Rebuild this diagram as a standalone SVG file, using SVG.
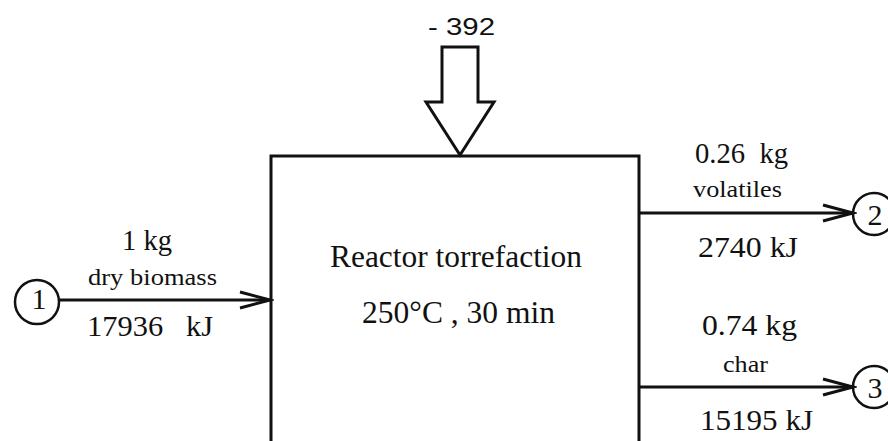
<svg xmlns="http://www.w3.org/2000/svg" width="888" height="441" viewBox="0 0 888 441">
<style>
.t{font-family:"Liberation Serif","Times New Roman",serif;fill:#111;text-anchor:start}
.b{font-size:30px}
.s{font-size:23px}
.m{font-size:31px}
.ln{stroke:#111;stroke-width:3;fill:none}
.c{stroke:#111;stroke-width:2.5;fill:#fff}
.n{font-family:"Liberation Serif","Times New Roman",serif;fill:#111;font-size:30px;text-anchor:middle}
</style>
<defs>
<marker id="ah" markerWidth="36" markerHeight="22" refX="32" refY="11" orient="auto" markerUnits="userSpaceOnUse">
<path d="M2,3 L32,11 L2,19" fill="none" stroke="#111" stroke-width="3"/>
</marker>
</defs>
<rect width="888" height="441" fill="#fff"/>
<g id="reactor">
<path class="ln" d="M271,441 L271,156 L639,156 L639,441"/>
<text class="t m" x="330" y="267" textLength="252" lengthAdjust="spacingAndGlyphs">Reactor torrefaction</text>
<text class="t m" x="362" y="323" textLength="193" lengthAdjust="spacingAndGlyphs">250°C , 30 min</text>
</g>
<g id="heat">
<path d="M444,47 L478,47 L478,102 L494,102 L460,155 L426,102 L442,102 L442,47 Z" fill="#fff" stroke="#111" stroke-width="3" stroke-linejoin="miter"/>
<text x="428" y="35" font-family="Liberation Sans, Arial, sans-serif" font-size="23" fill="#111" textLength="67" lengthAdjust="spacingAndGlyphs">- 392</text>
</g>
<g id="n1">
<circle class="c" cx="37" cy="302" r="22"/>
<text class="n" x="39" y="309">1</text>
</g>
<g id="n2">
<circle class="c" cx="874" cy="214" r="21"/>
<text class="n" x="875" y="225">2</text>
</g>
<g id="n3">
<circle class="c" cx="874" cy="387" r="21"/>
<text class="n" x="875" y="398">3</text>
</g>
<g id="connectors">
<line class="ln" x1="59" y1="300" x2="270" y2="300" marker-end="url(#ah)"/>
<line class="ln" x1="639" y1="213" x2="853" y2="213" marker-end="url(#ah)"/>
<line class="ln" x1="639" y1="387" x2="853" y2="387" marker-end="url(#ah)"/>
</g>
<g id="labels">
<text class="t b" x="122" y="250" textLength="50" lengthAdjust="spacingAndGlyphs">1 kg</text>
<text class="t s" x="88" y="285" textLength="129" lengthAdjust="spacingAndGlyphs">dry biomass</text>
<text class="t b" x="87" y="336" textLength="126" lengthAdjust="spacingAndGlyphs" xml:space="preserve">17936   kJ</text>
<text class="t b" x="695" y="163" textLength="93" lengthAdjust="spacingAndGlyphs" xml:space="preserve">0.26  kg</text>
<text class="t s" x="693" y="197" textLength="89" lengthAdjust="spacingAndGlyphs">volatiles</text>
<text class="t b" x="698" y="257" textLength="100" lengthAdjust="spacingAndGlyphs">2740 kJ</text>
<text class="t b" x="702" y="335" textLength="95" lengthAdjust="spacingAndGlyphs">0.74 kg</text>
<text class="t s" x="723" y="372" textLength="45" lengthAdjust="spacingAndGlyphs">char</text>
<text class="t b" x="700" y="430" textLength="113" lengthAdjust="spacingAndGlyphs">15195 kJ</text>
</g>
</svg>
